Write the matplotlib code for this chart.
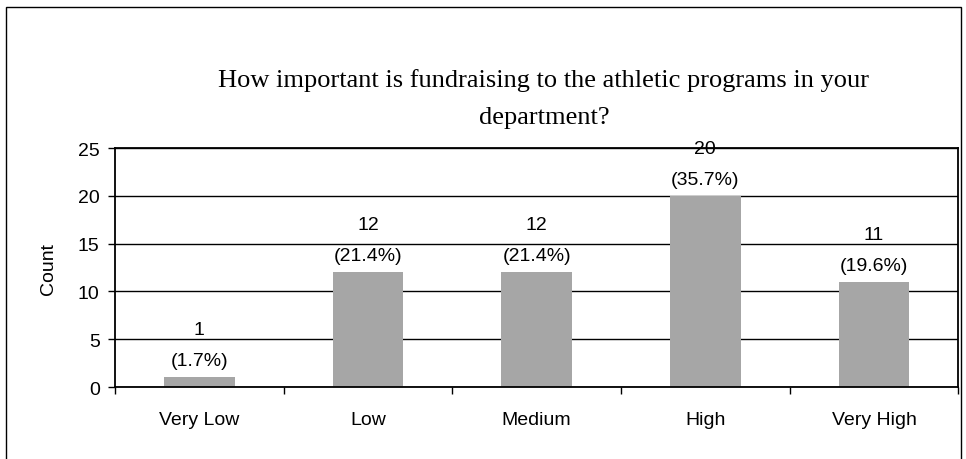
import matplotlib.pyplot as plt
import matplotlib.patches as mpatches
import numpy as np

# --- Data ---
categories = ["Very Low", "Low", "Medium", "High", "Very High"]
counts = [1, 12, 12, 20, 11]
percents = [1.7, 21.4, 21.4, 35.7, 19.6]
y_ticks = [0, 5, 10, 15, 20, 25]

title = "How important is fundraising to the athletic programs in your\ndepartment?"

fig = plt.figure(figsize=(9.66, 4.6), dpi=100)
ax = fig.add_axes([0.119, 0.1565, 0.873, 0.5195])

x = np.arange(len(categories))
ax.bar(x, counts, width=0.42, color="#a6a6a6", edgecolor="none", zorder=2)

# grid lines and frame
ax.set_ylim(0, 25)
ax.set_xlim(-0.5, len(categories) - 0.5)
ax.set_yticks(y_ticks)
ax.yaxis.grid(True, color="black", linewidth=1, zorder=1)
for s in ax.spines.values():
    s.set_color("black")
    s.set_linewidth(1.3)

# x ticks at category boundaries, labels at centers
ax.set_xticks(np.arange(len(categories) + 1) - 0.5)
ax.set_xticklabels([])
ax.set_xticks(x, minor=True)
ax.set_xticklabels(categories, minor=True, fontsize=14, family="Liberation Sans")
ax.tick_params(axis="x", which="major", direction="out", length=5, width=1)
ax.tick_params(axis="x", which="minor", length=0, pad=17)
ax.tick_params(axis="y", direction="out", length=5, width=1, labelsize=14, pad=6)
for lbl in ax.get_yticklabels():
    lbl.set_family("Liberation Sans")

ax.set_ylabel("Count", fontsize=14, family="Liberation Sans", labelpad=15)

# value labels
for xi, c, p in zip(x, counts, percents):
    ax.annotate(f"{c}\n({p}%)", xy=(xi, c), xytext=(0, 6), textcoords="offset points",
                ha="center", va="bottom", fontsize=14, family="Liberation Sans",
                linespacing=2.05, annotation_clip=False)

fig.text(0.563, 0.785, title, ha="center", va="center", fontsize=19,
         family="Liberation Serif", linespacing=1.85)

# outer border
fig.patches.append(mpatches.Rectangle((6 / 966, -0.05), 955 / 966, 1.05 - 8 / 460,
                                      transform=fig.transFigure, fill=False,
                                      edgecolor="black", linewidth=1))

fig.savefig("out.png", dpi=100)
